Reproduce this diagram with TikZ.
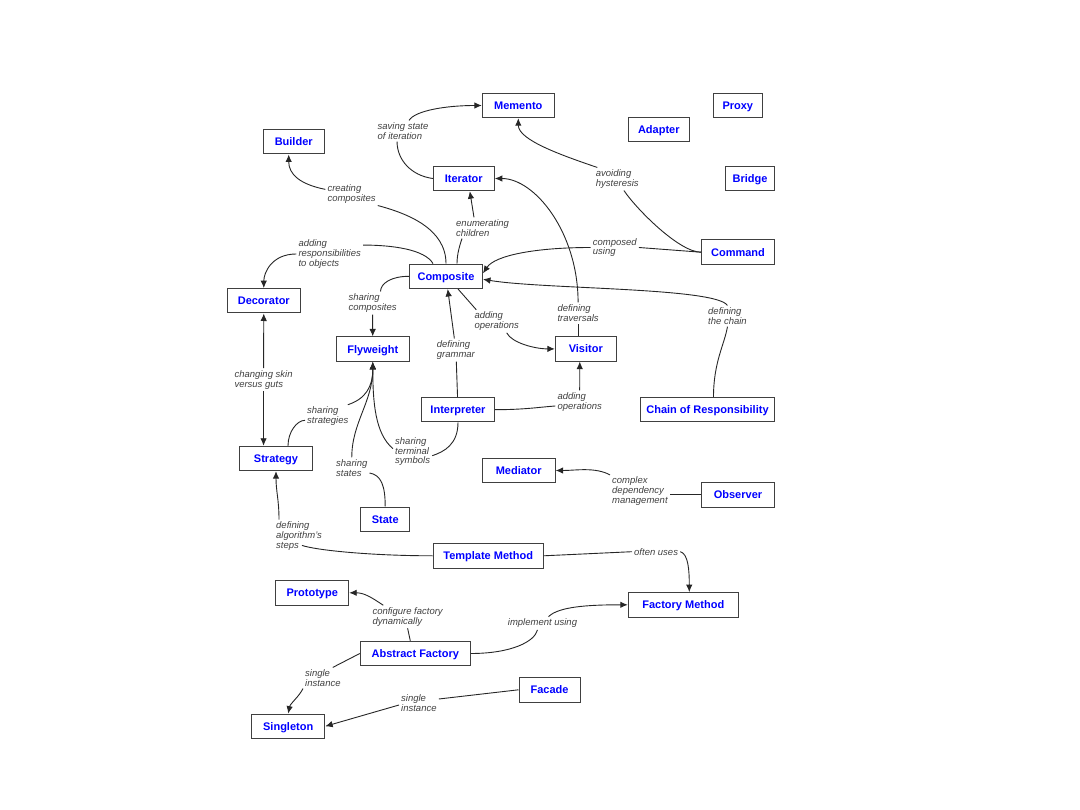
\documentclass[tikz,border=0pt]{standalone}
\usepackage{fontspec}
\setmainfont{Liberation Sans}
\usetikzlibrary{arrows.meta}

\begin{document}
\begin{tikzpicture}[x=1pt,y=-1pt,>={Latex[length=7.5pt,width=6.5pt]},
  pat/.style={draw=black!75,line width=1pt,fill=white,text=blue,
    font=\bfseries\fontsize{11}{12}\selectfont,minimum height=24.4pt,inner sep=0pt,
    text height=8pt,text depth=0pt},
  lbl/.style={font=\itshape\fontsize{9.5}{9.8}\selectfont,text=black!75,
    align=left,anchor=west,inner sep=2pt},
  rel/.style={draw=black!85,line width=0.9pt}]
\useasboundingbox (0,0) rectangle (1080,810);

\node[pat,minimum width=72pt] (memento) at (518.3,105.5) {Memento};
\node[pat,minimum width=49pt] (proxy) at (737.8,105.5) {Proxy};
\node[pat,minimum width=61pt] (adapter) at (658.8,129.8) {Adapter};
\node[pat,minimum width=61pt] (builder) at (293.7,141.8) {Builder};
\node[pat,minimum width=61pt] (iterator) at (463.8,178.5) {Iterator};
\node[pat,minimum width=49pt] (bridge) at (750,178.5) {Bridge};
\node[pat,minimum width=73pt] (command) at (738,252.2) {Command};
\node[pat,minimum width=73pt] (composite) at (446,276.3) {Composite};
\node[pat,minimum width=73pt] (decorator) at (263.8,300.8) {Decorator};
\node[pat,minimum width=73pt] (flyweight) at (372.8,349.1) {Flyweight};
\node[pat,minimum width=61pt] (visitor) at (585.8,348.9) {Visitor};
\node[pat,minimum width=73pt] (interpreter) at (458,409.7) {Interpreter};
\node[pat,minimum width=134pt] (chain) at (707.5,409.7) {Chain of Responsibility};
\node[pat,minimum width=73pt] (strategy) at (276,458.5) {Strategy};
\node[pat,minimum width=73pt] (mediator) at (518.7,470.5) {Mediator};
\node[pat,minimum width=73pt] (observer) at (738,494.8) {Observer};
\node[pat,minimum width=49pt] (state) at (385.2,519.2) {State};
\node[pat,minimum width=110pt] (template) at (488.2,555.8) {Template Method};
\node[pat,minimum width=73pt] (prototype) at (312.2,592.8) {Prototype};
\node[pat,minimum width=110pt] (fmethod) at (683.3,604.8) {Factory Method};
\node[pat,minimum width=110pt] (afactory) at (415.3,653.5) {Abstract Factory};
\node[pat,minimum width=61pt] (facade) at (549.5,689.8) {Facade};
\node[pat,minimum width=73pt] (singleton) at (288.2,726.3) {Singleton};

% relation labels
\node[lbl] (lsave) at (375.5,131) {saving state\\of iteration};
\node[lbl] (lcreate) at (325.3,194) {creating\\composites};
\node[lbl] (lenum) at (454,228) {enumerating\\children};
\node[lbl] (lavoid) at (593.7,179) {avoiding\\hysteresis};
\node[lbl] (lcomposed) at (590.7,247.5) {composed\\using};
\node[lbl] (lresp) at (296.3,254) {adding\\responsibilities\\to objects};
\node[lbl] (lsharecomp) at (346.3,303) {sharing\\composites};
\node[lbl] (laddop) at (472.3,321.3) {adding\\operations};
\node[lbl] (ltrav) at (555.3,313) {defining\\traversals};
\node[lbl] (lchain) at (706,316) {defining\\the chain};
\node[lbl] (lgrammar) at (434.7,350) {defining\\grammar};
\node[lbl] (lskin) at (232.3,379.7) {changing skin\\versus guts};
\node[lbl] (lsharestrat) at (305,416.3) {sharing\\strategies};
\node[lbl] (laddop2) at (555.3,402) {adding\\operations};
\node[lbl] (lterm) at (393,451.7) {sharing\\terminal\\symbols};
\node[lbl] (lsharestate) at (334,468) {sharing\\states};
\node[lbl] (lcomplex) at (610,491.3) {complex\\dependency\\management};
\node[lbl] (lalgo) at (274,536) {defining\\algorithm's\\steps};
\node[lbl] (loften) at (632,551.7) {often uses};
\node[lbl] (lconf) at (370.3,616.8) {configure factory\\dynamically};
\node[lbl] (limpl) at (505.7,623.3) {implement using};
\node[lbl] (lsingleA) at (303,678) {single\\instance};
\node[lbl] (lsingleB) at (399,703) {single\\instance};

\draw[rel] (iterator.west) .. controls +(-22,-3) and +(0,18) .. ([xshift=-6pt]lsave.south);
\draw[rel,->] ([xshift=6pt]lsave.north) .. controls +(6,-10) and +(-35,0) .. (memento.west);

\draw[rel] (composite.north) .. controls +(0,-35) and +(30,8) .. (lcreate.south east);
\draw[rel,->] (lcreate.170) .. controls +(-25,-5) and +(0,20) .. ([xshift=-5pt]builder.south);

\draw[rel] ([xshift=11pt]composite.north) .. controls +(0,-10) and +(-2,6) .. ([xshift=8pt]lenum.south west);
\draw[rel,->] ([xshift=20pt]lenum.north west) -- ([xshift=6pt]iterator.south);

\draw[rel] (command.west) .. controls +(-22,0) and +(12,18) .. (lavoid.-60);
\draw[rel,->] (lavoid.150) .. controls +(-35,-12) and +(0,22) .. (memento.south);

\draw[rel] (command.west) -- (lcomposed.east);
\draw[rel,->] (lcomposed.west) .. controls +(-55,0) and +(12,-18) .. ([yshift=3pt]composite.east);

\draw[rel] ([xshift=6pt]chain.north) .. controls +(0,-35) and +(-3,18) .. (lchain.south);
\draw[rel,->] (lchain.north) .. controls +(-12,-18) and +(60,10) .. ([yshift=-3pt]composite.east);

\draw[rel] (visitor.north -| ltrav.south) -- (ltrav.south);
\draw[rel,->] (ltrav.north) .. controls +(0,-70) and +(40,0) .. (iterator.east);

\draw[rel] ([xshift=12pt]composite.south) -- ([xshift=4pt]laddop.north west);
\draw[rel,->] ([xshift=10pt]laddop.south) .. controls +(5,10) and +(-20,0) .. (visitor.west);

\draw[rel] ([xshift=-13pt]composite.north) .. controls +(-8,-14) and +(30,0) .. (lresp.15);
\draw[rel,->] (lresp.west) .. controls +(-25,0) and +(0,-15) .. (decorator.north);

\draw[rel] (composite.west) .. controls +(-18,0) and +(0,-8) .. ([xshift=8pt]lsharecomp.north);
\draw[rel,->] (lsharecomp) -- (flyweight);

\draw[rel] (interpreter) -- (lgrammar);
\draw[rel,->] (lgrammar) -- (composite);

\draw[rel] (interpreter.east) .. controls +(30,0) and +(-15,1) .. ([yshift=-4pt]laddop2.west);
\draw[rel,->] (laddop2.north) -- ([xshift=-6pt]visitor.south);

\draw[rel] ([xshift=12pt]strategy.north) .. controls +(0,-14) and +(-8,0) .. ([yshift=-4pt]lsharestrat.west);
\draw[rel,->] (lsharestrat.30) .. controls +(18,-6) and +(0,25) .. (flyweight.south);

\draw[rel] (state.north) .. controls +(0,-20) and +(12,2) .. ([yshift=-5pt]lsharestate.east);
\draw[rel,->] (lsharestate.north) .. controls +(0,-35) and +(0,40) .. (flyweight.south);

\draw[rel] (interpreter.south) .. controls +(0,22) and +(12,-4) .. ([yshift=-4pt]lterm.east);
\draw[rel,->] ([yshift=3pt]lterm.west) .. controls +(-18,-15) and +(0,40) .. (flyweight.south);

\draw[rel,->] (lskin) -- (decorator);
\draw[rel,->] (lskin.south) -- (lskin.south |- strategy.north);

\draw[rel] (template.west) .. controls +(-60,0) and +(15,5) .. ([xshift=28pt,yshift=7pt]lalgo.south west);
\draw[rel,->] ([xshift=5pt]lalgo.north west) .. controls +(0,-20) and +(0,20) .. (strategy.south);

\draw[rel] (template.east) -- (loften.west);
\draw[rel,->] (loften.east) .. controls +(8,2) and +(0,-22) .. ([xshift=6pt]fmethod.north);

\draw[rel] (lconf.south) -- ([xshift=-5pt]afactory.north);
\draw[rel,->] ([xshift=13pt]lconf.north west) .. controls +(-12,-8) and +(15,0) .. (prototype.east);

\draw[rel] (afactory.east) .. controls +(40,0) and +(-3,12) .. ([xshift=-5pt]limpl.south);
\draw[rel,->] ([xshift=6pt]limpl.north) .. controls +(10,-10) and +(-40,0) .. (fmethod.west);

\draw[rel] (afactory.west) -- ([xshift=-10pt]lsingleA.north east);
\draw[rel,->] (lsingleA.south west) .. controls +(-4,8) and +(2,-10) .. (singleton.north);

\draw[rel] (facade.west) -- ([yshift=4pt]lsingleB.east);
\draw[rel,->] ([yshift=-2pt]lsingleB.west) -- (singleton.east);

\draw[rel] (observer.west) -- (observer.west -| lcomplex.east);
\draw[rel,->] (lcomplex.north west) .. controls +(-15,-8) and +(20,0) .. (mediator.east);
\end{tikzpicture}
\end{document}
